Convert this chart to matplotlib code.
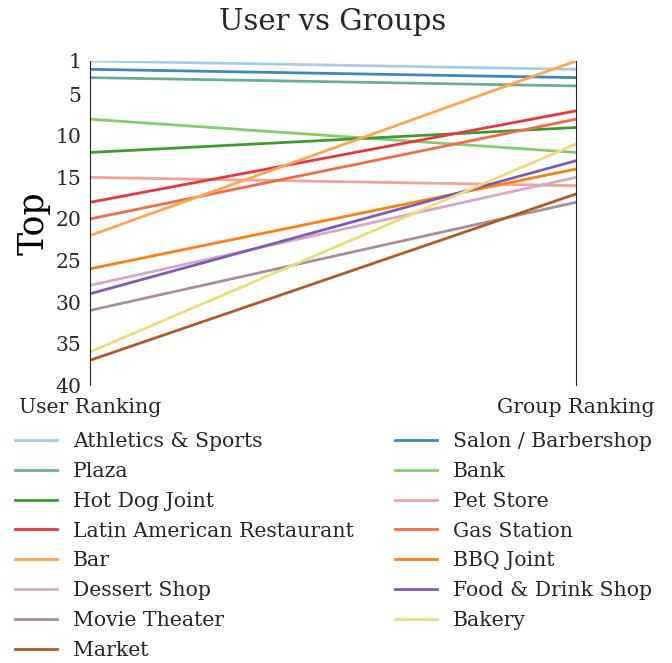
import matplotlib.pyplot as plt

# venue categories, ordered by user ranking
categories = ['Athletics & Sports', 'Salon / Barbershop', 'Plaza', 'Bank',
              'Hot Dog Joint', 'Pet Store', 'Latin American Restaurant',
              'Gas Station', 'Bar', 'BBQ Joint', 'Dessert Shop',
              'Food & Drink Shop', 'Movie Theater', 'Bakery', 'Market']
user_rank = [1, 2, 3, 8, 12, 15, 18, 20, 22, 26, 28, 29, 31, 36, 37]
group_rank = [2, 3, 4, 12, 9, 16, 7, 8, 1, 14, 15, 13, 18, 11, 17]
colors = ['#a6cee3', '#3a88c0', '#6aae94', '#86cc70', '#3f9a34', '#f3a09e',
          '#e8383d', '#f26b45', '#ffa64d', '#ff7f0e', '#d6a9c2', '#7d5cb6',
          '#a78f97', '#eedb7d', '#b15928']
x_labels = ['User Ranking', 'Group Ranking']
y_ticks = [1, 5, 10, 15, 20, 25, 30, 35, 40]

plt.rcParams['font.family'] = 'DejaVu Serif'
plt.rcParams['text.color'] = '#262626'
FS = 14.7

fig = plt.figure(figsize=(6.72, 6.63), dpi=100)
ax = fig.add_axes([0.134, 0.419, 0.723, 0.489])

lines = []
for name, u, g, c in zip(categories, user_rank, group_rank, colors):
    ln, = ax.plot([0, 1], [u, g], color=c, lw=2, label=name)
    lines.append(ln)

ax.set_xlim(0, 1)
ax.set_ylim(40, 1)
ax.set_xticks([0, 1])
ax.set_xticklabels(x_labels, fontsize=FS, color='#262626')
ax.set_yticks(y_ticks)
ax.set_yticklabels([str(t) for t in y_ticks], fontsize=FS, color='#262626')
ax.tick_params(length=0, pad=6)
ax.tick_params(axis='x', pad=9)
ax.spines['top'].set_visible(False)
ax.spines['bottom'].set_visible(False)
ax.spines['left'].set_color('#262626')
ax.spines['right'].set_color('#262626')
ax.set_ylabel('Top', fontsize=25, labelpad=4)
ax.set_title('User vs Groups', fontsize=21, pad=22)

# legend filled row by row
order = list(range(0, 15, 2)) + list(range(1, 15, 2))
fig.legend([lines[i] for i in order], [categories[i] for i in order],
           ncol=2, loc='upper left', bbox_to_anchor=(-0.005, 0.376),
           frameon=False, fontsize=FS, handlelength=2.05,
           columnspacing=2.0, labelspacing=0.53, handletextpad=0.8)

fig.savefig('out.png', dpi=100)
